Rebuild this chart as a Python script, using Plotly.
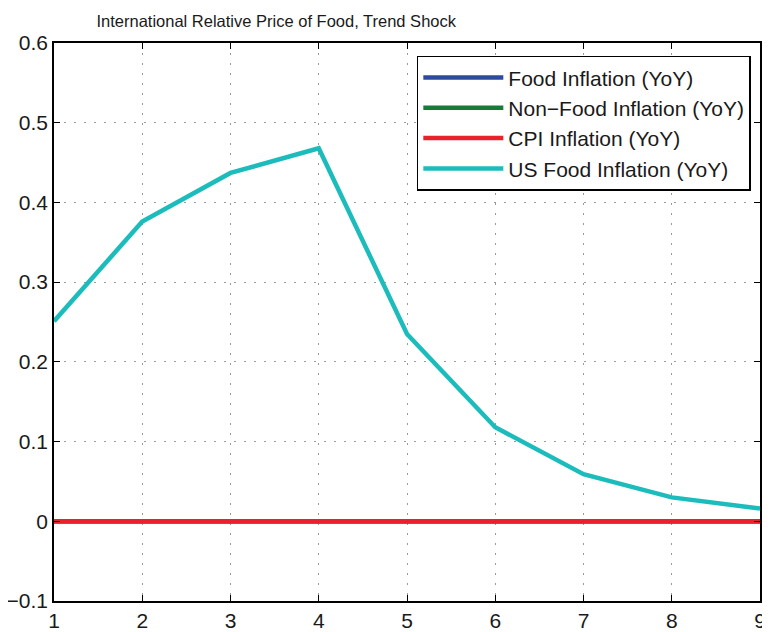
import plotly.graph_objects as go

periods = [1, 2, 3, 4, 5, 6, 7, 8, 9]
food_infl = [0, 0, 0, 0, 0, 0, 0, 0, 0]
nonfood_infl = [0, 0, 0, 0, 0, 0, 0, 0, 0]
cpi_infl = [0, 0, 0, 0, 0, 0, 0, 0, 0]
us_food_infl = [0.251, 0.376, 0.437, 0.468, 0.235, 0.118, 0.059, 0.030, 0.016]

series = [
    ("Food Inflation (YoY)", food_infl, "#2e4a9e"),
    ("Non\u2212Food Inflation (YoY)", nonfood_infl, "#1a7a3a"),
    ("CPI Inflation (YoY)", cpi_infl, "#e8212a"),
    ("US Food Inflation (YoY)", us_food_infl, "#1cbcbc"),
]

fig = go.Figure()
for name, vals, col in series:
    fig.add_trace(go.Scatter(x=periods, y=vals, mode="lines", name=name,
                             line=dict(color=col, width=4.5)))

axis_common = dict(
    showline=True, linecolor="black", linewidth=1.5, mirror="ticks",
    ticks="inside", ticklen=6, tickcolor="black",
    showgrid=True, gridcolor="#9a9a9a", griddash="2px,8px", gridwidth=1,
    zeroline=False, automargin=False,
    tickfont=dict(family="Liberation Sans, Arial, sans-serif", size=21, color="#1a1a1a"),
)

fig.update_layout(
    width=762, height=624,
    margin=dict(l=46, r=10, t=35, b=31, autoexpand=False),
    paper_bgcolor="white", plot_bgcolor="white",
    title=dict(text="International Relative Price of Food, Trend Shock",
               x=0.352, xanchor="center", y=0.979, yanchor="middle",
               font=dict(family="Liberation Sans, Arial, sans-serif",
                         size=16.5, color="#1a1a1a")),
    xaxis=dict(range=[1, 9], tickvals=periods, **axis_common),
    yaxis=dict(range=[-0.1, 0.6], tickvals=[-0.1, 0, 0.1, 0.2, 0.3, 0.4, 0.5, 0.6],
               ticktext=["\u22120.1", "0", "0.1", "0.2", "0.3", "0.4", "0.5", "0.6"],
               **axis_common),
    legend=dict(x=0.987, xanchor="right", y=0.977, yanchor="top",
                bgcolor="white", bordercolor="black", borderwidth=1.5,
                font=dict(family="Liberation Sans, Arial, sans-serif", size=21, color="#1a1a1a"),
                tracegroupgap=0, itemwidth=80),
    showlegend=True,
)

fig.write_html("out.html")
